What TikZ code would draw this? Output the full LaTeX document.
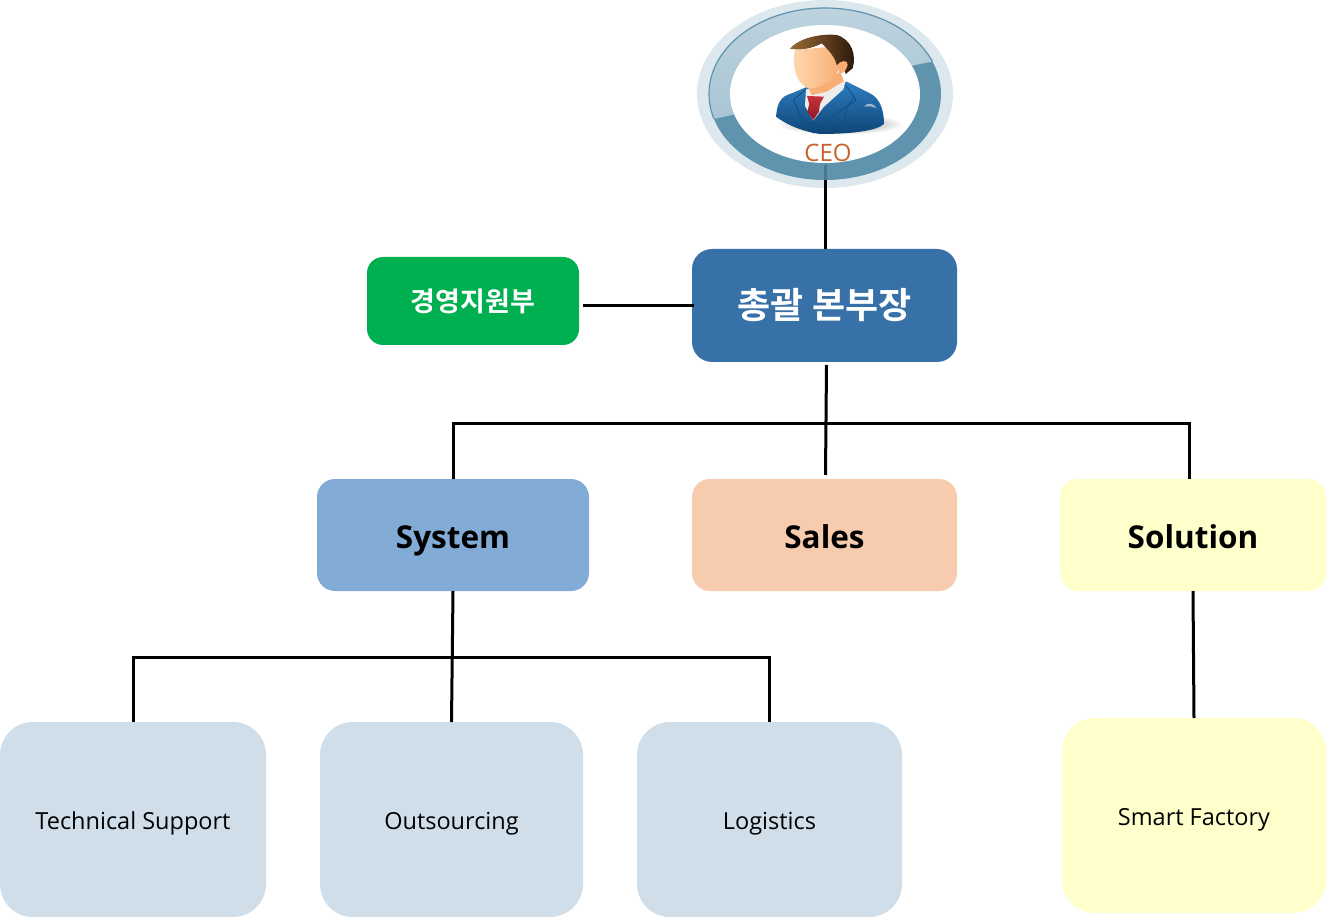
\documentclass[tikz,border=0pt]{standalone}
\usepackage{fontspec}
\setmainfont{Open Sans}
\newfontfamily\krfont{Noto Sans CJK KR}[BoldFont={Noto Sans CJK KR Bold}]
\usetikzlibrary{shapes.geometric}
\definecolor{ringpale}{HTML}{DDE8EE}
\definecolor{ringdark}{HTML}{5F93AE}
\definecolor{ringlightA}{HTML}{BDD3DF}
\definecolor{ringlightB}{HTML}{9DBDCD}
\definecolor{cgreen}{HTML}{00B050}
\definecolor{cblue}{HTML}{3771A7}
\definecolor{csys}{HTML}{82ACD6}
\definecolor{csales}{HTML}{F7CBAE}
\definecolor{csol}{HTML}{FFFFCC}
\definecolor{cleaf}{HTML}{D0DEEA}
\definecolor{cceo}{HTML}{C8622A}
\definecolor{suitA}{HTML}{2F7FC0}
\definecolor{suitB}{HTML}{0E4577}
\definecolor{suitL}{HTML}{0F4E86}
\definecolor{skinA}{HTML}{FFD9B0}
\definecolor{skinB}{HTML}{F8AE74}
\definecolor{hairA}{HTML}{9A6A35}
\definecolor{hairB}{HTML}{2A170A}
\definecolor{tieA}{HTML}{C8323C}
\definecolor{tieB}{HTML}{8E1822}
\tikzset{
  x=1pt,y=-1pt,
  bx/.style={rounded corners=#1,inner sep=0pt,outer sep=0pt,align=center},
  conn/.style={draw=black,line width=3pt},
  lvl/.style={font=\fontsize{31.5}{36}\selectfont\bfseries,text height=30pt,text depth=4pt},
  leaf/.style={font=\fontsize{23.5}{28}\selectfont,text height=23pt,text depth=4pt},
}
\begin{document}
\begin{tikzpicture}
\useasboundingbox (0,0) rectangle (1326,917);
% CEO emblem
\fill[ringpale] (825,94) ellipse [x radius=128,y radius=94];
\node[ellipse,fill=ringdark,draw=none,minimum width=232pt,minimum height=172pt,inner sep=0pt,outer sep=0pt] (ceo) at (825,94) {};
\begin{scope}
  \clip (700,122) -- (732,115) -- (915,65) -- (950,58) -- (950,0) -- (700,0) -- cycle;
  \shade[top color=ringlightA,bottom color=ringlightB,draw=ringdark,line width=1.2pt] (825,94) ellipse [x radius=116,y radius=86];
\end{scope}
\fill[white] (825,94) ellipse [x radius=95,y radius=69];
\draw[color=ringdark!80!black,line width=3pt] (825,165) -- (825,180);
% person, in coordinates of a 3x crop
\begin{scope}[shift={(680,0)},x=0.3333pt,y=-0.3333pt]
  \shade[inner color=black!50,outer color=white] (480,372) ellipse [x radius=190,y radius=32];
  % suit
  \shade[top color=suitA,bottom color=suitB] (288,350) .. controls (292,310) and (300,290) .. (335,280) -- (378,262) -- (500,245) -- (570,280) .. controls (600,295) and (612,330) .. (612,372) .. controls (590,392) and (520,402) .. (420,402) .. controls (370,395) and (320,375) .. (288,350) -- cycle;
  % shirt
  \fill[white!93!black] (378,268) -- (497,243) -- (490,268) -- (430,322) -- (400,362) -- (375,318) -- cycle;
  % tie
  \shade[top color=tieA,bottom color=tieB] (381,288) -- (432,290) -- (420,312) -- (417,335) -- (400,360) -- (382,335) -- (388,312) -- cycle;
  % lapels
  \draw[suitL,line width=0.9pt] (378,268) -- (340,300) -- (358,340) -- (400,400);
  \draw[suitL,line width=0.9pt] (497,255) -- (528,300) -- (405,385) -- (400,362);
  \draw[suitL,line width=0.7pt] (520,292) .. controls (500,320) and (490,350) .. (490,398);
  \fill[white,opacity=.55] (552,320) .. controls (565,305) and (580,310) .. (590,325) .. controls (575,318) and (565,318) .. (552,320) -- cycle;
  % neck
  \fill[skinB] (385,262) -- (480,215) -- (492,243) -- (440,275) -- (395,285) -- cycle;
  % face
  \shade[left color=skinA,right color=skinB] (345,150) .. controls (335,190) and (345,250) .. (385,265) .. controls (415,268) and (470,240) .. (478,200) .. controls (480,175) and (470,150) .. (455,140) -- cycle;
  % hair
  \shade[left color=hairA,right color=hairB] (330,146) .. controls (355,115) and (420,100) .. (470,105) .. controls (515,118) and (530,165) .. (518,205) -- (497,222) -- (485,185) -- (470,195) .. controls (465,170) and (445,150) .. (425,130) .. controls (400,145) and (360,152) .. (330,146) -- cycle;
  % ear
  \fill[skinB] (470,198) .. controls (480,180) and (505,178) .. (503,195) .. controls (500,208) and (490,220) .. (480,222) -- cycle;
\end{scope}
\node[text=cceo,font=\fontsize{24}{28}\selectfont,inner sep=0pt] (ceotxt) at (828,153) {CEO};
% boxes
\node[bx=20pt,fill=cblue,minimum width=265pt,minimum height=113pt,text=white,font=\krfont\bfseries\fontsize{36}{40}\selectfont] (top) at (824.5,305.5) {총괄 본부장};
\node[bx=16pt,fill=cgreen,minimum width=212pt,minimum height=88pt,text=white,font=\krfont\bfseries\fontsize{27}{32}\selectfont] (sup) at (473,301) {경영지원부};
\node[bx=18pt,fill=csys,minimum width=272pt,minimum height=112pt,lvl] (sys) at (453,535) {System};
\node[bx=18pt,fill=csales,minimum width=265pt,minimum height=112pt,lvl] (sales) at (824.5,535) {Sales};
\node[bx=18pt,fill=csol,minimum width=266pt,minimum height=112pt,lvl] (sol) at (1193,535) {Solution};
\node[bx=33pt,fill=cleaf,minimum width=266pt,minimum height=195pt,leaf] (tech) at (133,819.5) {Technical Support};
\node[bx=33pt,fill=cleaf,minimum width=263pt,minimum height=195pt,leaf] (outs) at (451.5,819.5) {Outsourcing};
\node[bx=33pt,fill=cleaf,minimum width=265pt,minimum height=195pt,leaf] (logi) at (769.5,819.5) {Logistics};
\node[bx=33pt,fill=csol,minimum width=264pt,minimum height=195pt,leaf] (smart) at (1194,815.5) {Smart Factory};
% free ends of the stubs that stop short of a box
\coordinate (supE) at ([xshift=4pt,yshift=-4.5pt]sup.east);
\coordinate (topS) at ([xshift=2pt,yshift=-3pt]top.south);
\coordinate (salesN) at ([xshift=1pt,yshift=4pt]sales.north);
% connectors
\draw[conn] (ceo.south) -- (ceo.south |- top.north);
\draw[conn] (supE) -- ([xshift=2pt]top.west);
\draw[conn] (topS) -- (salesN);
\draw[conn] (sys.north) |- (820,423) -| ([xshift=-4pt]sol.north);
\draw[conn] (sys.south) -- (outs.north);
\draw[conn] (tech.north) |- (450,657) -| (logi.north);
\draw[conn] (sol.south) -- (smart.north);
\end{tikzpicture}
\end{document}
